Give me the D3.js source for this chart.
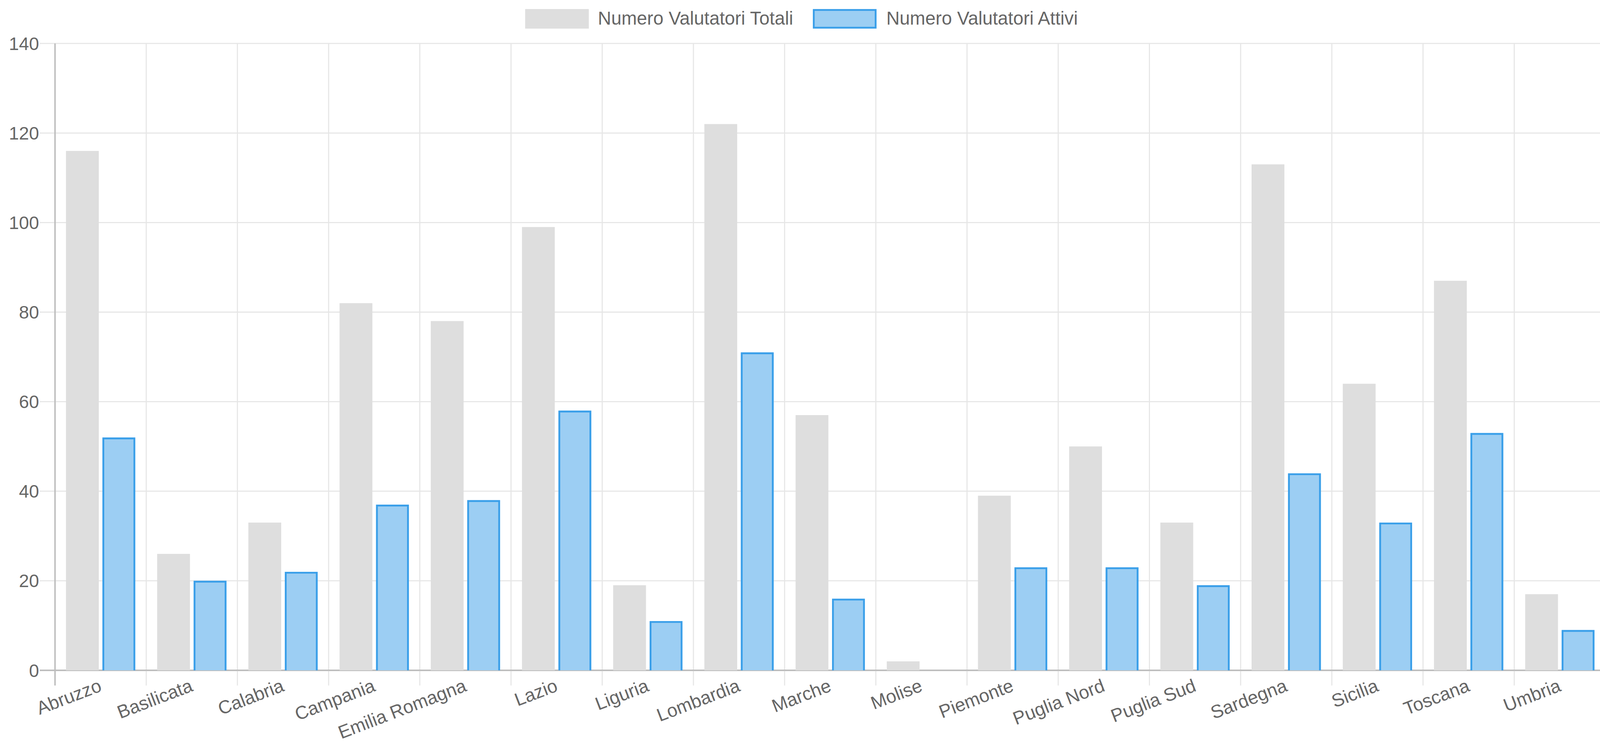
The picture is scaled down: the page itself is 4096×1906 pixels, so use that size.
<!DOCTYPE html>
<html>
<head>
<meta charset="utf-8">
<script src="https://cdn.jsdelivr.net/npm/d3@7"></script>
<style>
  html, body { margin: 0; padding: 0; background: #ffffff; overflow: hidden; }
  svg { display: block; }
  text { font-family: "Liberation Sans", Arial, Helvetica, sans-serif; fill: #666666; }
</style>
</head>
<body>
<svg id="chart"></svg>
<script>
const categories = ["Abruzzo", "Basilicata", "Calabria", "Campania", "Emilia Romagna", "Lazio", "Liguria", "Lombardia", "Marche", "Molise", "Piemonte", "Puglia Nord", "Puglia Sud", "Sardegna", "Sicilia", "Toscana", "Umbria"];
const totali = [116, 26, 33, 82, 78, 99, 19, 122, 57, 2, 39, 50, 33, 113, 64, 87, 17];
const attivi = [52, 20, 22, 37, 38, 58, 11, 71, 16, 0, 23, 23, 19, 44, 33, 53, 9];
const seriesNames = ["Numero Valutatori Totali", "Numero Valutatori Attivi"];
const yTicks = [0, 20, 40, 60, 80, 100, 120, 140];

// Reference is 4421x2057; draw in those units, scaled into the 4096x1906 window.
const REF_W = 4421, REF_H = 2057;
const svg = d3.select("#chart")
  .attr("width", 4096).attr("height", 1906)
  .attr("viewBox", `0 0 ${REF_W} ${REF_H}`)
  .attr("preserveAspectRatio", "xMinYMin meet");

const plot = { left: 152, right: 4436, top: 120, bottom: 1851 };
const fontSize = 51;
const gridColor = "#e6e6e6";
const axisColor = "#bdbdbd";
const grayFill = "#dedede";
const blueFill = "#9ccef3";
const blueStroke = "#3a9fe9";
const blueStrokeW = 5;

const x = d3.scaleBand().domain(categories).range([plot.left, plot.right]).paddingInner(0).paddingOuter(0);
const bw = x.bandwidth();
const xInner = d3.scaleBand().domain([0, 1])
  .range([bw * 0.1, bw * 0.9]).paddingInner(0.1).paddingOuter(0.05);
const y = d3.scaleLinear().domain([0, 140]).range([plot.bottom, plot.top]);

// Horizontal gridlines
const gGrid = svg.append("g");
gGrid.selectAll("line.h").data(yTicks).join("line")
  .attr("x1", plot.left - 42).attr("x2", plot.right)
  .attr("y1", d => y(d)).attr("y2", d => y(d))
  .attr("stroke", d => d === 0 ? axisColor : gridColor)
  .attr("stroke-width", d => d === 0 ? 4 : 3);

// Vertical gridlines at category boundaries
const bounds = d3.range(categories.length + 1).map(i => plot.left + i * bw);
gGrid.selectAll("line.v").data(bounds).join("line")
  .attr("x1", d => d).attr("x2", d => d)
  .attr("y1", plot.top).attr("y2", plot.bottom + 42)
  .attr("stroke", (d, i) => i === 0 ? axisColor : gridColor)
  .attr("stroke-width", (d, i) => i === 0 ? 4 : 3);

// Zero line redrawn over vertical grid
gGrid.append("line")
  .attr("x1", plot.left - 42).attr("x2", plot.right)
  .attr("y1", y(0)).attr("y2", y(0))
  .attr("stroke", axisColor).attr("stroke-width", 4);

// Bars
const gBars = svg.append("g");
gBars.selectAll("rect.tot").data(categories).join("rect")
  .attr("x", (c) => x(c) + xInner(0))
  .attr("width", xInner.bandwidth())
  .attr("y", (c, i) => y(totali[i]))
  .attr("height", (c, i) => y(0) - y(totali[i]))
  .attr("fill", grayFill);

const hb = blueStrokeW / 2;
const blueGroups = gBars.selectAll("g.att").data(categories.map((c, i) => ({ c, v: attivi[i] })).filter(d => d.v > 0)).join("g");
blueGroups.append("rect")
  .attr("x", d => x(d.c) + xInner(1))
  .attr("width", xInner.bandwidth())
  .attr("y", d => y(d.v))
  .attr("height", d => y(0) - y(d.v))
  .attr("fill", blueFill);
blueGroups.append("path")
  .attr("d", d => {
    const x0 = x(d.c) + xInner(1) + hb, x1 = x(d.c) + xInner(1) + xInner.bandwidth() - hb;
    const yt = y(d.v) + hb, yb = y(0);
    return `M${x0},${yb}L${x0},${yt}L${x1},${yt}L${x1},${yb}`;
  })
  .attr("fill", "none").attr("stroke", blueStroke).attr("stroke-width", blueStrokeW);

// Y tick labels
svg.append("g").selectAll("text").data(yTicks).join("text")
  .attr("x", 108).attr("y", d => y(d) + 18)
  .attr("text-anchor", "end").attr("font-size", 50)
  .text(d => d);

// X tick labels (rotated)
const angle = 21;
svg.append("g").selectAll("text").data(categories).join("text")
  .attr("text-anchor", "end").attr("font-size", fontSize)
  .attr("transform", c => `translate(${x(c) + bw / 2 + 6},${plot.bottom + 56}) rotate(${-angle})`)
  .text(c => c);

// Legend
const legend = [
  { name: seriesNames[0], box: 1451, text: 1652, fill: grayFill, stroke: null },
  { name: seriesNames[1], box: 2246, text: 2449, fill: blueFill, stroke: blueStroke }
];
const gLeg = svg.append("g");
legend.forEach(l => {
  gLeg.append("rect")
    .attr("x", l.box + (l.stroke ? hb : 0)).attr("y", 25 + (l.stroke ? hb : 0))
    .attr("width", 176 - (l.stroke ? blueStrokeW : 0)).attr("height", 54 - (l.stroke ? blueStrokeW : 0))
    .attr("fill", l.fill)
    .attr("stroke", l.stroke || "none").attr("stroke-width", l.stroke ? blueStrokeW : 0);
  gLeg.append("text")
    .attr("x", l.text).attr("y", 68)
    .attr("font-size", fontSize)
    .text(l.name);
});
</script>
</body>
</html>
